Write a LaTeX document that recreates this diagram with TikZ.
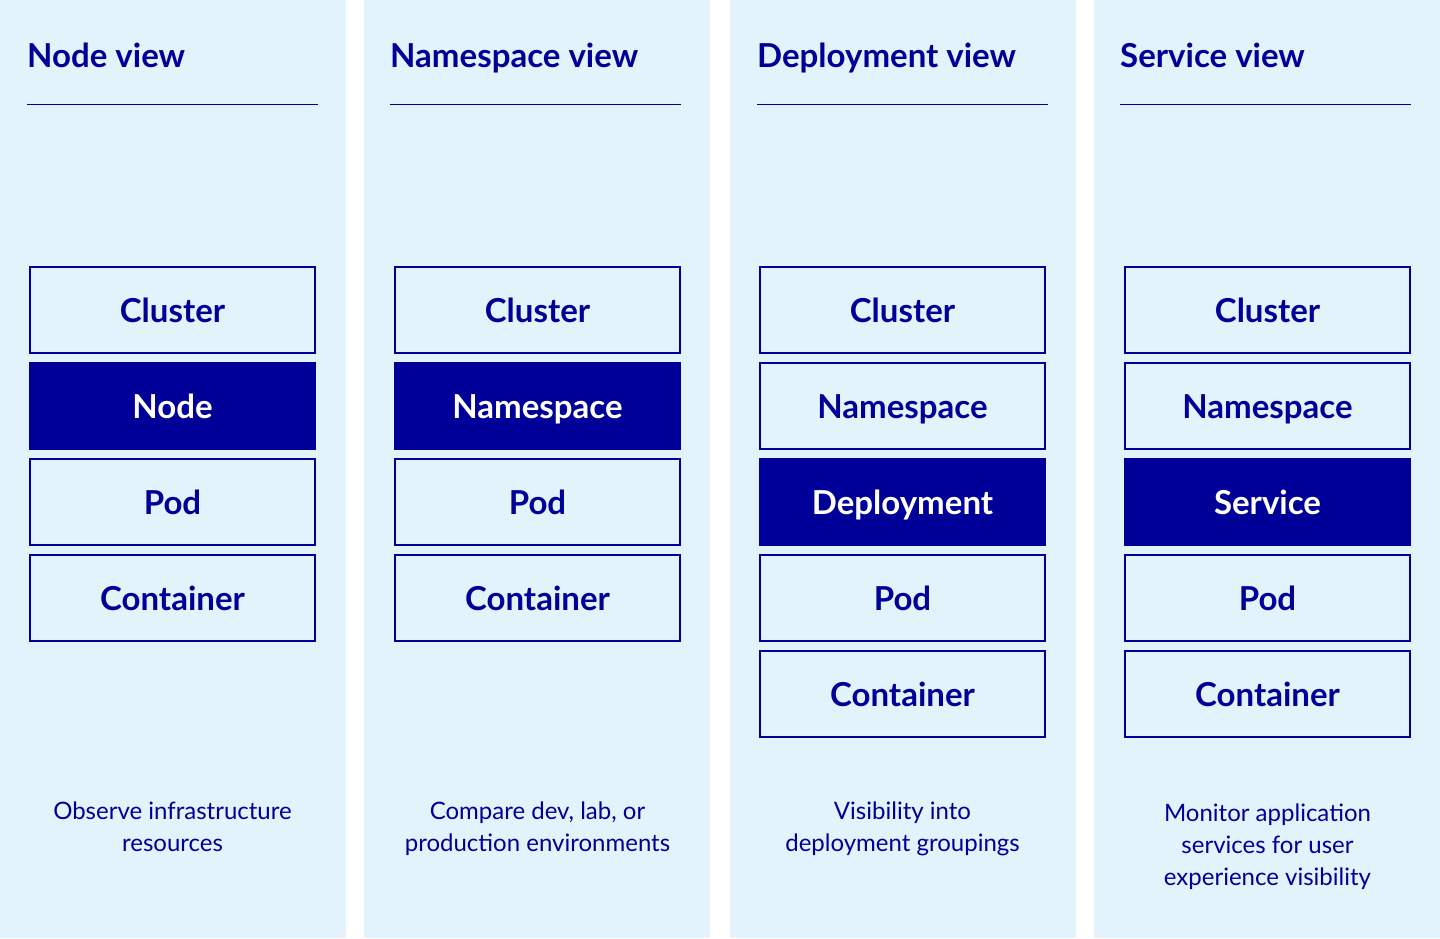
\documentclass[tikz,border=0pt]{standalone}
\usepackage{fontspec}
\setmainfont{Lato}
\usetikzlibrary{positioning}
\definecolor{viewblue}{HTML}{000099}
\definecolor{viewbg}{HTML}{E3F3FB}
\tikzset{
x=1pt, y=1pt, % one unit is one pixel of the layout
node distance=10pt, % gap between two stacked levels
levelbox/.style={draw=viewblue, fill=viewbg, line width=1.3pt, minimum width=285pt, minimum height=86pt, inner sep=0pt, outer sep=0pt, text height=24pt, text depth=0pt, text=viewblue, font=\bfseries\fontsize{33}{40}\selectfont}, % one level of the hierarchy
activebox/.style={levelbox, fill=viewblue, text=white}, % the level that the view groups by
titletext/.style={anchor=base west, inner sep=0pt, text=viewblue, font=\bfseries\fontsize{33}{40}\selectfont}, % column heading
desctext/.style={anchor=north, inner sep=0pt, align=center, text=viewblue, font=\fontsize{24}{32}\selectfont}, % text under the stack
rulestyle/.style={draw=viewblue, line width=1.3pt}, % line under the heading
}

\begin{document}
\begin{tikzpicture}
                \useasboundingbox[fill=white] (0,0) rectangle (1440,-938);
                \foreach \colx in {0,364,730,1094}
                    \fill[viewbg] (\colx,0) rectangle ++(346,-938);

                % Node view
                \node[titletext] (title1) at (27,-67) {Node view};
                \draw[rulestyle] (27,-104.5) -- ++(291,0);
                \node[levelbox] (cluster1) at (172.5,-310) {Cluster};
                \node[activebox, below=of cluster1] (node1) {Node};
                \node[levelbox, below=of node1] (pod1) {Pod};
                \node[levelbox, below=of pod1] (container1) {Container};
                \node[desctext] (desc1) at (172.5,-802) {Observe infrastructure\\resources};

                % Namespace view
                \node[titletext] (title2) at (390,-67) {Namespace view};
                \draw[rulestyle] (390,-104.5) -- ++(291,0);
                \node[levelbox] (cluster2) at (537.5,-310) {Cluster};
                \node[activebox, below=of cluster2] (namespace2) {Namespace};
                \node[levelbox, below=of namespace2] (pod2) {Pod};
                \node[levelbox, below=of pod2] (container2) {Container};
                \node[desctext] (desc2) at (537.5,-802) {Compare dev, lab, or\\production environments};

                % Deployment view
                \node[titletext] (title3) at (757,-67) {Deployment view};
                \draw[rulestyle] (757,-104.5) -- ++(291,0);
                \node[levelbox] (cluster3) at (902.5,-310) {Cluster};
                \node[levelbox, below=of cluster3] (namespace3) {Namespace};
                \node[activebox, below=of namespace3] (deployment3) {Deployment};
                \node[levelbox, below=of deployment3] (pod3) {Pod};
                \node[levelbox, below=of pod3] (container3) {Container};
                \node[desctext] (desc3) at (902.5,-802) {Visibility into\\deployment groupings};

                % Service view
                \node[titletext] (title4) at (1120,-67) {Service view};
                \draw[rulestyle] (1120,-104.5) -- ++(291,0);
                \node[levelbox] (cluster4) at (1267.5,-310) {Cluster};
                \node[levelbox, below=of cluster4] (namespace4) {Namespace};
                \node[activebox, below=of namespace4] (service4) {Service};
                \node[levelbox, below=of service4] (pod4) {Pod};
                \node[levelbox, below=of pod4] (container4) {Container};
                \node[desctext] (desc4) at (1267.5,-804) {Monitor application\\services for user\\experience visibility};
\end{tikzpicture}
\end{document}
